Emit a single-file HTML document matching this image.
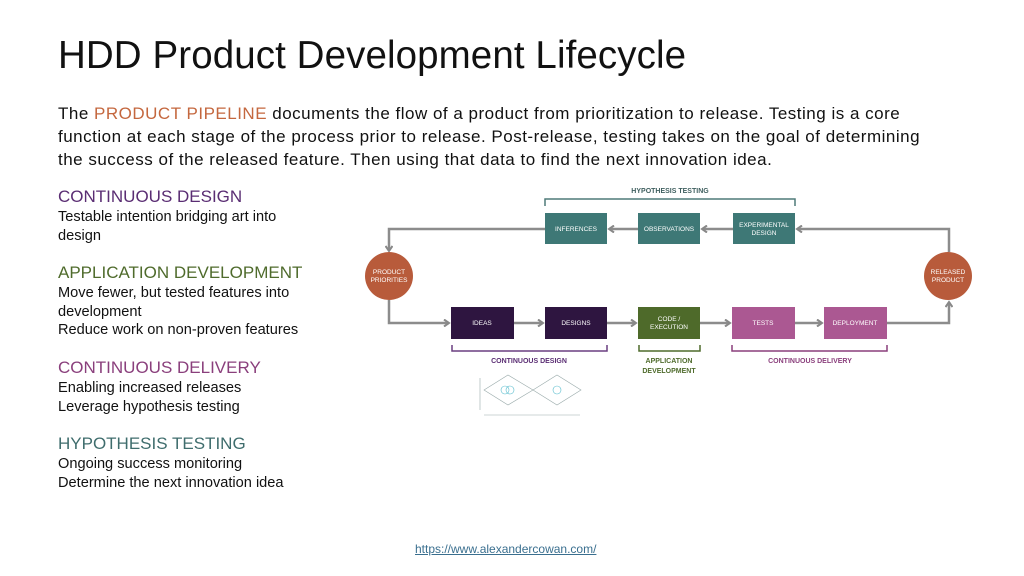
<!DOCTYPE html>
<html><head><style>
body{margin:0;width:1024px;height:576px;background:#fff;font-family:"Liberation Sans",sans-serif;position:relative;overflow:hidden;color:#111}
h1{position:absolute;left:58px;top:34px;margin:0;font-weight:normal;font-size:38.5px;letter-spacing:0.1px;white-space:nowrap}
.p{position:absolute;left:58px;top:102px;width:960px;font-size:17px;line-height:23px;white-space:nowrap;letter-spacing:0.5px}
.l{position:absolute;left:58px;font-size:14.6px;line-height:18.5px;width:320px;white-space:nowrap}
.l b{font-weight:normal;font-size:17px;display:block;line-height:22px}
.u{position:absolute;left:415px;top:542px;font-size:12px;color:#3a6f8f;text-decoration:underline}
</style></head><body>
<h1>HDD Product Development Lifecycle</h1>
<div class="p">The <span style="color:#c4673e">PRODUCT PIPELINE</span> documents the flow of a product from prioritization to release. Testing is a core<br>function at each stage of the process prior to release. Post-release, testing takes on the goal of determining<br>the success of the released feature. Then using that data to find the next innovation idea.</div>
<div class="l" style="top:186px"><b style="color:#5a2d73">CONTINUOUS DESIGN</b>Testable intention bridging art into<br>design</div>
<div class="l" style="top:262px"><b style="color:#4f6b2c">APPLICATION DEVELOPMENT</b>Move fewer, but tested features into<br>development<br>Reduce work on non-proven features</div>
<div class="l" style="top:357px"><b style="color:#8a3f7c">CONTINUOUS DELIVERY</b>Enabling increased releases<br>Leverage hypothesis testing</div>
<div class="l" style="top:433px"><b style="color:#3f6d6d">HYPOTHESIS TESTING</b>Ongoing success monitoring<br>Determine the next innovation idea</div>
<div class="u">https://www.alexandercowan.com/</div>
<svg style="position:absolute;left:0;top:0" width="1024" height="576" font-family="Liberation Sans,sans-serif">
<defs><marker id="a" markerWidth="8" markerHeight="8" refX="6" refY="4" orient="auto" markerUnits="userSpaceOnUse"><path d="M1,0.5 L6,4 L1,7.5" fill="none" stroke="#888" stroke-width="2"/></marker></defs>
<g stroke="#8c8c8c" stroke-width="2.5" fill="none">
<path d="M545,229 H389 V251" marker-end="url(#a)"/>
<path d="M638,229 H609" marker-end="url(#a)"/>
<path d="M733,229 H702" marker-end="url(#a)"/>
<path d="M949,252 V229 H797" marker-end="url(#a)"/>
<path d="M389,300 V323 H449" marker-end="url(#a)"/>
<path d="M514,323 H543" marker-end="url(#a)"/>
<path d="M607,323 H636" marker-end="url(#a)"/>
<path d="M700,323 H730" marker-end="url(#a)"/>
<path d="M795,323 H822" marker-end="url(#a)"/>
<path d="M887,323 H949 V302" marker-end="url(#a)"/>
</g>
<g stroke-width="1.5" fill="none">
<path d="M545,206 V199 H795 V206" stroke="#4f7a78"/>
<path d="M452,345 V351 H607 V345" stroke="#6a3f80"/>
<path d="M639,345 V351 H700 V345" stroke="#4f6b2c"/>
<path d="M732,345 V351 H887 V345" stroke="#8a3f7c"/>
</g>
<g font-size="6.5" fill="#fff" text-anchor="middle">
<rect x="545" y="213" width="62" height="31" fill="#3e7876"/><text x="576" y="231">INFERENCES</text>
<rect x="638" y="213" width="62" height="31" fill="#3e7876"/><text x="669" y="231">OBSERVATIONS</text>
<rect x="733" y="213" width="62" height="31" fill="#3e7876"/><text x="764" y="227">EXPERIMENTAL</text><text x="764" y="235">DESIGN</text>
<rect x="451" y="307" width="63" height="32" fill="#2e1540"/><text x="482" y="325">IDEAS</text>
<rect x="545" y="307" width="62" height="32" fill="#2e1540"/><text x="576" y="325">DESIGNS</text>
<rect x="638" y="307" width="62" height="32" fill="#4e6a2a"/><text x="669" y="321">CODE /</text><text x="669" y="329">EXECUTION</text>
<rect x="732" y="307" width="63" height="32" fill="#ab5892"/><text x="763" y="325">TESTS</text>
<rect x="824" y="307" width="63" height="32" fill="#ab5892"/><text x="855" y="325">DEPLOYMENT</text>
<circle cx="389" cy="276" r="24" fill="#b85b3b"/><text x="389" y="274">PRODUCT</text><text x="389" y="282">PRIORITIES</text>
<circle cx="948" cy="276" r="24" fill="#b85b3b"/><text x="948" y="274">RELEASED</text><text x="948" y="282">PRODUCT</text>
</g>
<g font-size="7" font-weight="bold" text-anchor="middle">
<text x="670" y="193" fill="#3f5f5f">HYPOTHESIS TESTING</text>
<text x="529" y="363" fill="#5a2d73">CONTINUOUS DESIGN</text>
<text x="669" y="363" fill="#4f6b2c">APPLICATION</text><text x="669" y="373" fill="#4f6b2c">DEVELOPMENT</text>
<text x="810" y="363" fill="#8a3f7c">CONTINUOUS DELIVERY</text>
</g>
<g stroke="#9aa" stroke-width="0.6" fill="none">
<path d="M484,390 L508,375 L533,390 L508,405 Z M533,390 L557,375 L581,390 L557,405 Z"/>
<path d="M480,378 V410 M484,415 H580"/>
<circle cx="505" cy="390" r="4" stroke="#5bc"/><circle cx="510" cy="390" r="4" stroke="#5bc"/><circle cx="557" cy="390" r="4" stroke="#5bc"/>
</g>
</svg>
</body></html>
